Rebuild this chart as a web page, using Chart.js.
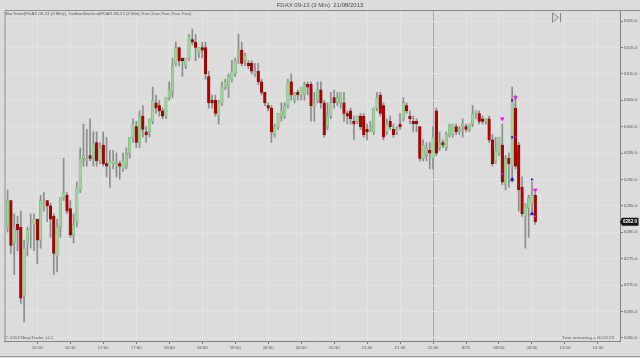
<!DOCTYPE html>
<html><head><meta charset="utf-8">
<script src="https://cdn.jsdelivr.net/npm/chart.js@4.4.0/dist/chart.umd.min.js"></script>
<style>html,body{margin:0;padding:0;background:#dcdcdc;}#wrap{width:640px;height:358px;}</style>
</head><body><div id="wrap"><canvas id="c" width="640" height="358"></canvas></div>
<script>
// ---- data (3-minute FDAX candles, bar index 0..160) ----
const opens = [
6281.0,6286.0,6278.0,6281.5,6281.0,6268.0,6278.0,6280.5,6281.5,6282.5,
6278.5,6285.0,6286.0,6285.0,6283.0,6275.5,6281.0,6286.5,6287.0,6284.5,
6279.5,6282.0,6288.0,6294.0,6293.5,6294.5,6294.0,6297.0,6293.5,6296.5,
6293.0,6292.5,6293.0,6292.5,6293.0,6292.0,6292.5,6295.0,6298.0,6300.0,
6297.0,6302.0,6299.0,6299.0,6301.0,6304.5,6304.0,6303.0,6302.0,6305.5,
6306.5,6312.0,6315.0,6313.0,6311.5,6313.0,6316.5,6316.0,6314.0,6315.0,
6315.0,6309.5,6305.0,6305.0,6302.0,6304.5,6307.5,6307.5,6309.0,6310.0,
6313.0,6314.5,6312.5,6312.0,6312.0,6310.0,6310.5,6308.5,6306.5,6304.0,
6303.5,6298.5,6300.0,6302.0,6302.0,6304.0,6308.5,6305.0,6306.5,6306.0,
6306.0,6308.0,6308.0,6304.0,6305.0,6307.0,6304.5,6300.0,6302.0,6305.5,
6304.5,6304.5,6304.5,6302.5,6303.0,6301.0,6301.0,6302.0,6302.0,6299.5,
6299.5,6299.0,6303.5,6306.0,6304.0,6299.0,6301.0,6299.5,6299.0,6300.5,
6301.5,6304.0,6302.0,6301.0,6301.0,6300.0,6294.0,6294.5,6295.5,6294.0,
6303.0,6296.0,6297.0,6296.0,6298.5,6298.5,6300.0,6299.0,6300.0,6300.0,
6299.5,6300.5,6302.5,6302.5,6301.5,6301.0,6301.5,6297.5,6293.5,6295.0,
6296.5,6289.0,6294.0,6292.5,6303.5,6296.5,6288.5,6283.0,6284.5,6285.5,6287.0];
const highs = [
6288.0,6286.0,6283.5,6283.0,6284.0,6278.5,6281.0,6283.5,6283.5,6282.5,
6287.0,6287.5,6286.0,6285.5,6283.5,6282.5,6286.5,6294.0,6287.5,6286.0,
6283.5,6289.5,6296.0,6300.5,6299.5,6301.5,6299.0,6299.0,6297.0,6299.0,
6298.0,6295.5,6295.5,6295.0,6293.5,6295.0,6296.0,6298.0,6301.5,6301.0,
6303.0,6304.0,6300.0,6301.5,6307.5,6306.0,6305.0,6303.5,6305.5,6308.5,
6313.0,6316.0,6315.0,6313.0,6313.0,6317.5,6318.5,6317.5,6315.0,6316.0,
6316.0,6310.5,6306.0,6306.0,6305.0,6308.5,6309.0,6310.0,6312.5,6313.0,
6317.5,6316.0,6314.0,6312.5,6312.5,6312.0,6312.0,6309.0,6306.5,6304.5,
6304.0,6300.5,6302.5,6304.5,6304.5,6309.0,6310.0,6306.5,6307.0,6307.5,
6308.5,6308.5,6308.5,6306.5,6308.5,6308.5,6305.0,6304.5,6306.5,6307.0,
6306.5,6306.5,6306.5,6303.0,6303.5,6302.0,6302.0,6302.5,6302.5,6300.5,
6301.0,6303.5,6306.5,6306.5,6304.5,6301.5,6302.0,6300.5,6300.0,6302.5,
6305.5,6304.5,6303.0,6302.0,6301.5,6300.0,6297.5,6297.0,6297.0,6300.0,
6303.5,6299.0,6297.5,6299.0,6300.5,6300.5,6300.5,6300.0,6301.5,6300.5,
6300.5,6304.0,6303.0,6303.0,6302.0,6301.5,6302.0,6298.5,6298.0,6298.0,
6300.5,6294.5,6295.0,6307.5,6306.0,6297.0,6290.5,6285.5,6287.0,6289.5,6287.5];
const lows = [
6280.0,6276.0,6272.0,6276.5,6266.5,6263.0,6275.5,6277.0,6276.5,6274.0,
6277.0,6284.0,6282.0,6279.0,6272.0,6272.5,6279.0,6286.0,6283.5,6279.0,
6278.0,6281.0,6287.5,6292.5,6292.5,6293.5,6292.5,6292.5,6293.0,6292.5,
6290.5,6288.5,6292.0,6290.5,6290.0,6291.5,6292.0,6294.0,6297.0,6296.0,
6296.0,6298.0,6297.0,6298.0,6300.5,6302.5,6302.0,6301.5,6301.5,6305.0,
6305.5,6311.5,6311.5,6309.5,6311.0,6312.5,6315.5,6312.5,6313.0,6313.0,
6309.0,6303.5,6303.5,6302.0,6300.5,6304.0,6307.0,6305.5,6308.5,6309.5,
6312.0,6311.5,6311.5,6311.0,6310.0,6309.5,6308.0,6306.0,6304.0,6303.0,
6297.0,6298.0,6299.5,6301.0,6301.5,6303.5,6305.0,6304.5,6305.0,6305.0,
6305.0,6306.0,6301.0,6301.0,6304.5,6303.5,6298.0,6299.5,6301.5,6303.5,
6304.0,6303.5,6301.0,6300.5,6300.5,6297.5,6300.5,6299.5,6298.0,6297.5,
6299.0,6298.5,6303.0,6302.0,6297.5,6298.5,6299.5,6298.0,6298.5,6299.5,
6301.0,6302.5,6300.5,6299.0,6299.0,6293.5,6293.5,6293.5,6292.0,6292.0,
6294.5,6295.5,6296.0,6295.5,6298.0,6298.0,6298.5,6298.5,6298.0,6299.0,
6299.0,6300.0,6301.5,6300.5,6300.5,6300.5,6297.0,6292.5,6293.0,6294.5,
6289.0,6288.0,6288.5,6289.5,6292.0,6284.0,6283.0,6277.0,6279.0,6284.0,6281.5];
const closes = [
6286.0,6277.5,6281.0,6280.5,6267.5,6277.0,6280.5,6280.5,6282.5,6278.5,
6286.0,6285.5,6285.0,6282.5,6276.0,6281.0,6286.5,6287.5,6284.0,6279.5,
6281.5,6288.5,6294.0,6294.5,6294.0,6294.0,6296.5,6293.5,6296.0,6293.0,
6292.5,6293.5,6293.5,6293.0,6292.5,6293.5,6295.0,6298.0,6300.5,6297.0,
6302.0,6299.5,6298.5,6301.5,6305.0,6303.5,6303.0,6302.0,6305.5,6307.0,
6311.5,6315.0,6312.5,6312.5,6313.0,6317.0,6316.0,6315.0,6315.0,6314.5,
6310.0,6304.5,6304.5,6302.5,6304.5,6307.5,6308.5,6309.5,6310.5,6312.5,
6314.5,6312.0,6313.5,6311.5,6310.5,6310.5,6308.5,6306.5,6304.5,6303.5,
6299.0,6300.0,6302.5,6303.0,6304.0,6308.5,6306.0,6306.5,6306.0,6307.5,
6308.0,6307.5,6304.0,6304.5,6307.0,6304.5,6298.5,6302.0,6304.5,6304.5,
6305.5,6306.5,6302.5,6302.0,6301.5,6300.5,6302.0,6300.0,6298.5,6299.0,
6300.0,6303.5,6305.5,6302.5,6298.0,6300.5,6300.0,6298.5,6299.5,6300.0,
6304.5,6303.0,6301.5,6300.5,6300.5,6294.0,6296.5,6296.0,6295.0,6298.0,
6295.0,6297.0,6296.5,6298.5,6300.0,6300.5,6299.0,6299.5,6300.5,6299.5,
6300.5,6302.5,6303.0,6301.0,6301.0,6301.5,6297.5,6293.0,6295.5,6298.0,
6289.5,6294.0,6293.0,6304.5,6292.5,6288.0,6283.5,6285.0,6286.5,6287.0,6282.0];

// time axis tick labels (bar index where each label sits)
const tickIdx = [9,19,29,39,49,59,69,79,89,99,109,119,129,139,149,159,169,179];
const tickLabels = ['16:00','16:30','17:00','17:30','18:00','18:30','19:00','19:30','20:00',
                    '20:30','21:00','21:30','22:00','8/21','09:00','09:30','10:00','10:30'];
const sessionBreakIdx = 129;
const priceTicks = [6260,6265,6270,6275,6280,6285,6290,6295,6300,6305,6310,6315,6320];

// trade signal markers
const sellArrowX = [150,154,160];   const sellArrowY = [6301.5,6305.5,6288.0];
const sellDotX   = [150,154,160];   const sellDotY   = [6291.0,6298.0,6283.0];
const buyArrowX  = [153,159];       const buyArrowY  = [6290.0,6283.5];
const buyFlagX   = [153,159];       const buyFlagY   = [6305.0,6290.0];
const buyDotX    = [153];           const buyDotY    = [6298.0];

const titleText = 'FDAX 09-13 (3 Min)  21/08/2013';
const indicatorText = 'BarTimer(FDAX 09-13 (3 Min)), ToolbarShortcut(FDAX 09-13 (3 Min),True,True,True,True,True)';
const copyrightText = '\u00A9 2013 NinjaTrader, LLC';
const timerText = 'Time remaining = 00:02:23';

// ---- build chart ----
const idx = opens.map((_, i) => i);
const UP = '#9dd29a', UPB = '#78a975', DN = '#b00000', DNB = '#7a0000';
const FONT = '"Liberation Sans", Arial, sans-serif';
const pts = (xs, ys) => xs.map((x, k) => ({x: x, y: ys[k]}));

const bgPlugin = {
  id: 'bg',
  beforeDraw(c) {
    const ctx = c.ctx; ctx.save();
    ctx.fillStyle = '#dcdcdc'; ctx.fillRect(0, 0, c.width, c.height);
    ctx.restore();
  }
};
const overlay = {
  id: 'overlay',
  afterDraw(c) {
    const ctx = c.ctx, a = c.chartArea;
    ctx.save();
    // frame lines (top & left)
    ctx.strokeStyle = '#8a8a8a'; ctx.lineWidth = 1;
    ctx.beginPath();
    ctx.moveTo(a.left + 0.5, a.bottom); ctx.lineTo(a.left + 0.5, a.top + 0.5); ctx.lineTo(c.width, a.top + 0.5);
    ctx.stroke();
    ctx.beginPath(); ctx.moveTo(0, 356.5); ctx.lineTo(c.width, 356.5); ctx.strokeStyle = '#9a9a9a'; ctx.stroke();
    // title
    ctx.fillStyle = '#4a4a4a'; ctx.textBaseline = 'middle';
    ctx.font = '6px ' + FONT; ctx.textAlign = 'center';
    ctx.fillText(titleText, 320, 5);
    // indicator label
    ctx.font = '4.4px ' + FONT; ctx.textAlign = 'left'; ctx.fillStyle = '#555';
    ctx.fillText(indicatorText, a.left + 1.5, a.top + 4);
    // copyright / timer
    ctx.fillText(copyrightText, a.left + 1, a.bottom - 3.5);
    ctx.textAlign = 'right';
    ctx.fillText(timerText, a.right - 6, a.bottom - 3.5);
    // scroll-to-end button
    ctx.strokeStyle = '#707070'; ctx.lineWidth = 0.8;
    ctx.beginPath(); ctx.moveTo(552.5, 13); ctx.lineTo(558.5, 17.5); ctx.lineTo(552.5, 22); ctx.closePath(); ctx.stroke();
    ctx.beginPath(); ctx.moveTo(560.5, 13); ctx.lineTo(560.5, 22); ctx.stroke();
    // last price box
    const last = closes[closes.length - 1];
    const yp = c.scales.y.getPixelForValue(last);
    ctx.fillStyle = '#141414';
    ctx.beginPath(); ctx.moveTo(620, yp); ctx.lineTo(622, yp - 4); ctx.lineTo(638.5, yp - 4);
    ctx.lineTo(638.5, yp + 4); ctx.lineTo(622, yp + 4); ctx.closePath(); ctx.fill();
    ctx.fillStyle = '#ffffff'; ctx.font = 'bold 4.6px ' + FONT; ctx.textAlign = 'left';
    ctx.fillText(last.toFixed(1), 623, yp + 0.3);
    ctx.restore();
  }
};

new Chart(document.getElementById('c'), {
  type: 'bar',
  data: {
    datasets: [
      {
        label: 'wick', order: 5,
        data: idx.map(i => ({x: i, y: [lows[i], highs[i]]})),
        backgroundColor: '#8c8c8c', barThickness: 1, grouped: false, borderWidth: 0
      },
      {
        label: 'body', order: 4,
        data: idx.map(i => ({x: i, y: [opens[i], closes[i]]})),
        backgroundColor: idx.map(i => closes[i] >= opens[i] ? UP : DN),
        borderColor: idx.map(i => closes[i] >= opens[i] ? UPB : DNB),
        borderWidth: 0.5, borderSkipped: false,
        barThickness: 2.6, minBarLength: 1, grouped: false
      },
      { type: 'scatter', label: 'sell', order: 1, data: pts(sellArrowX, sellArrowY),
        pointStyle: 'triangle', rotation: 180, radius: 2.2, backgroundColor: '#ff00ff', borderColor: '#ff00ff', borderWidth: 0.5 },
      { type: 'scatter', label: 'sellDot', order: 1, data: pts(sellDotX, sellDotY),
        pointStyle: 'rect', radius: 1.2, backgroundColor: '#ff00ff', borderColor: '#ff00ff', borderWidth: 0 },
      { type: 'scatter', label: 'buy', order: 1, data: pts(buyArrowX, buyArrowY),
        pointStyle: 'triangle', rotation: 0, radius: 2.2, backgroundColor: '#1010d0', borderColor: '#1010d0', borderWidth: 0.5 },
      { type: 'scatter', label: 'buyFlag', order: 1, data: pts(buyFlagX, buyFlagY),
        pointStyle: 'triangle', rotation: 90, radius: 1.8, backgroundColor: '#1010d0', borderColor: '#1010d0', borderWidth: 0 },
      { type: 'scatter', label: 'buyDot', order: 1, data: pts(buyDotX, buyDotY),
        pointStyle: 'rect', radius: 1.4, backgroundColor: '#1010d0', borderColor: '#1010d0', borderWidth: 0 }
    ]
  },
  options: {
    responsive: false, animation: false, devicePixelRatio: 1,
    layout: { padding: { left: 2, top: 10, right: 0, bottom: 0 } },
    plugins: { legend: { display: false }, tooltip: { enabled: false } },
    scales: {
      x: {
        type: 'linear', min: -0.95, max: 185.7, offset: false,
        afterBuildTicks: s => { s.ticks = tickIdx.map(v => ({value: v})); },
        afterFit: s => { s.height = 17; },
        ticks: {
          autoSkip: false, maxRotation: 0, padding: 1, color: '#555',
          font: { size: 4.4, family: FONT },
          callback: v => { const k = tickIdx.indexOf(v); return k >= 0 ? tickLabels[k] : ''; }
        },
        grid: {
          offset: false, lineWidth: 1, tickLength: 3, tickColor: '#7a7a7a',
          color: ctx => (ctx.tick && ctx.tick.value === sessionBreakIdx) ? '#a6a6a6' : '#e4e4e4'
        },
        border: { display: true, color: '#808080' }
      },
      y: {
        type: 'linear', position: 'right', min: 6259.4, max: 6322.1, beginAtZero: false,
        afterBuildTicks: s => { s.ticks = priceTicks.map(v => ({value: v})); },
        afterFit: s => { s.width = 20; },
        ticks: { padding: 1, color: '#555', font: { size: 4.4, family: FONT }, callback: v => Number(v).toFixed(1) },
        grid: { color: '#e3e3e3', tickLength: 3, tickColor: '#7a7a7a' },
        border: { display: true, color: '#808080' }
      }
    }
  },
  plugins: [bgPlugin, overlay]
});
</script>
</body></html>
